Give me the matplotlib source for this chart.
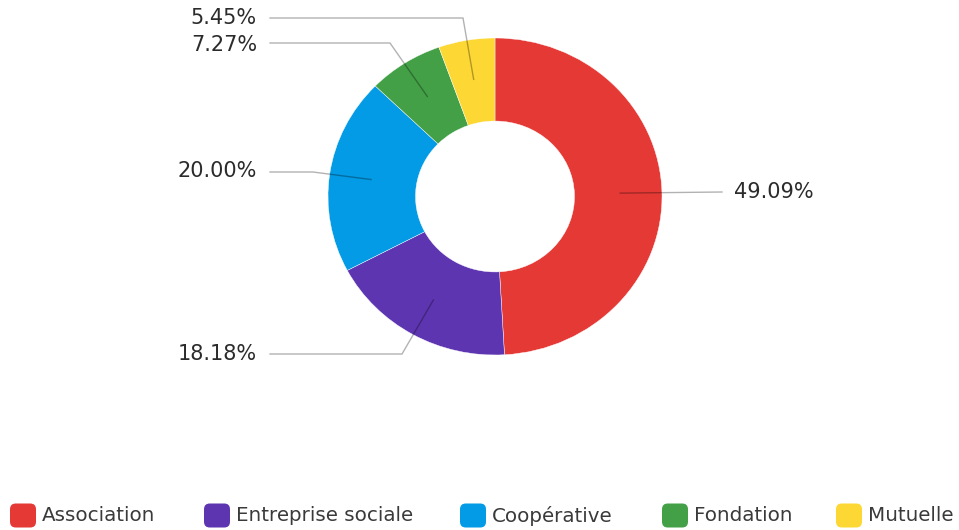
import numpy as np
import matplotlib.pyplot as plt
from matplotlib.patches import FancyBboxPatch

# Répartition des structures par statut
categories = ['Association', 'Entreprise sociale', 'Coopérative', 'Fondation', 'Mutuelle']
parts = [49.09, 18.18, 20.00, 7.27, 5.45]
couleurs = ['#E53935', '#5E35B1', '#039BE5', '#43A047', '#FDD835']

W, H = 959, 530
fig = plt.figure(figsize=(W / 100, H / 100), dpi=100)

# boite du donut en pixels (gauche, haut, droite, bas)
x0, y0, x1, y1 = 328, 38, 662, 355
cx, cy = (x0 + x1) / 2, (y0 + y1) / 2
rx, ry = (x1 - x0) / 2, (y1 - y0) / 2
ax = fig.add_axes([x0 / W, 1 - y1 / H, (x1 - x0) / W, (y1 - y0) / H])

wedges, _ = ax.pie(parts, colors=couleurs, startangle=90, counterclock=False,
                   radius=1, wedgeprops=dict(width=0.524, edgecolor='white', linewidth=0.3))
ax.set_aspect('auto')
ax.set_xlim(-1, 1)
ax.set_ylim(-1, 1)
ax.axis('off')


def px2data(px, py):
    return (px - cx) / rx, (cy - py) / ry


# coudes et positions des etiquettes (pixels)
coudes = [(722, 192), (402, 354), (313, 172), (390, 43), (463, 18)]
bouts = [722, 270, 270, 270, 270]
textes_y = [192, 354, 171, 45, 18]

for w, p, (ex, ey), bx, ty in zip(wedges, parts, coudes, bouts, textes_y):
    ang = np.deg2rad((w.theta1 + w.theta2) / 2)
    sx, sy = 0.75 * np.cos(ang), 0.75 * np.sin(ang)
    exd, eyd = px2data(ex, ey)
    bxd, byd = px2data(bx, ey)
    ax.plot([sx, exd, bxd], [sy, eyd, byd], color='black', alpha=0.3, lw=1,
            clip_on=False, solid_joinstyle='miter')
    if bx > cx:
        fig.text((bx + 12) / W, 1 - ty / H, f'{p:.2f}%', ha='left', va='center',
                 fontsize=15, color='#2b2b2b')
    else:
        fig.text((bx - 13) / W, 1 - ty / H, f'{p:.2f}%', ha='right', va='center',
                 fontsize=15, color='#2b2b2b')

# legende dessinee a la main
leg_x = [10, 204, 460, 662, 836]
leg_y = 515.5
for lx, nom, c in zip(leg_x, categories, couleurs):
    box = FancyBboxPatch((lx / W, 1 - (leg_y + 12) / H), 26 / W, 24 / H,
                         boxstyle='round,pad=0,rounding_size=0.006',
                         transform=fig.transFigure, facecolor=c, edgecolor='none',
                         mutation_aspect=W / H)
    fig.patches.append(box)
    fig.text((lx + 32) / W, 1 - leg_y / H, nom, ha='left', va='center',
             fontsize=14.3, color='#3a3a3a')

fig.savefig('out.png', dpi=100)
